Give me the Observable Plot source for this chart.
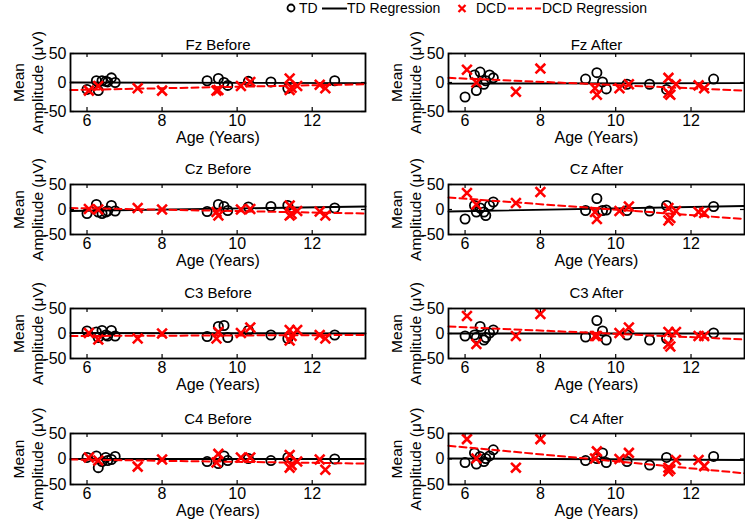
<!DOCTYPE html>
<html><head><meta charset="utf-8">
<script src="https://cdn.jsdelivr.net/npm/d3@7"></script>
<script src="https://cdn.jsdelivr.net/npm/@observablehq/plot@0.6"></script>
<style>
html,body{margin:0;padding:0;background:#fff;}
#fig{position:relative;width:745px;height:523px;overflow:hidden;font-family:"Liberation Sans",Arial,Helvetica,sans-serif;color:#000;background:#fff;}
.panel{position:absolute;}
.leg{position:absolute;top:0;height:17px;font-size:14px;line-height:17px;white-space:nowrap;}
.leg svg{display:block;}
</style></head><body><div id="fig"></div>
<script>
// ---------- data ----------
const xTicks = [6, 8, 10, 12];
const yTicks = [-50, 0, 50];
const xDomain = [5.56, 13.42];
const yDomain = [-50, 50];
const panelTitles = ["Fz Before", "Fz After", "Cz Before", "Cz After", "C3 Before", "C3 After", "C4 Before", "C4 After"];
const legendLabels = ["TD", "TD Regression", "DCD", "DCD Regression"];

const tdAge = [6.0, 6.25, 6.3, 6.4, 6.5, 6.55, 6.65, 6.75, 9.2, 9.5, 9.65, 9.75, 10.3, 10.9, 11.35, 12.6];
const dcdAge = [6.05, 6.3, 7.35, 8.0, 9.45, 9.5, 10.1, 10.35, 11.4, 11.4, 11.45, 11.6, 12.2, 12.35];

const tdFzBefore = [-12, 3, -14, 3, 2, 1, 8, 0, 3, 7, 0, -5, 2, 1, -10, 3];
const tdFzAfter  = [-25, 13, -14, 18, -3, 3, 13, 8, 6, 17, 1, -11, -3, -3, -12, 6];
const tdCzBefore = [-8, 10, -5, -8, -5, -3, 8, -3, -4, 10, 6, -2, 5, 6, 8, 3];
const tdCzAfter  = [-19, 8, -5, 3, -5, -12, 8, 15, -2, 22, -2, -1, -2, -3, 8, 6];
const tdC3Before = [5, 3, -8, 6, -3, -5, 6, -5, -6, 14, 16, -8, 6, -3, -10, -3];
const tdC3After  = [-5, -3, -8, 14, -13, -8, 1, 7, -7, 26, 5, -13, -3, -13, -10, 1];
const tdC4Before = [3, 6, -17, -5, 3, -3, -1, 5, -5, -9, 6, -3, 1, -3, 3, 0];
const tdC4After  = [-7, 12, -10, 5, -5, 1, 6, 18, -3, 1, 12, -7, -5, -12, 3, 5];

const dcdFzBefore = [-14, -6, -10, -14, -14, -13, -6, 1, 7, -13, -9, -6, -4, -10];
const dcdFzAfter  = [22, 0, -16, 24, -10, -21, -10, -3, 8, -18, -21, -3, -5, -10];
const dcdCzBefore = [1, 0, 3, 0, -5, -12, 0, 1, 8, -12, -9, -3, -4, -12];
const dcdCzAfter  = [33, 10, 13, 35, -5, -19, -3, 6, 3, -22, -17, -3, -5, -7];
const dcdC3Before = [1, -12, -10, 0, -10, 3, 1, 12, 7, -14, -5, 7, -3, -10];
const dcdC3After  = [35, -21, -5, 39, -5, -5, 1, 12, 3, -21, -26, 3, -5, -5];
const dcdC4Before = [3, -3, -15, -1, -7, 10, 3, 3, 8, -17, -12, -5, -1, -21];
const dcdC4After  = [39, 1, -17, 39, 1, 15, 0, 12, -17, -24, -20, -2, -2, -14];

// regression line end values at the x-axis limits
const regAge = [5.56, 13.42];
const tdRegFzBefore = [0, -1],  dcdRegFzBefore = [-13, -3];
const tdRegFzAfter  = [-2, -1], dcdRegFzAfter  = [8, -14];
const tdRegCzBefore = [-3, 6],  dcdRegCzBefore = [3, -8];
const tdRegCzAfter  = [-4, 7],  dcdRegCzAfter  = [24, -19];
const tdRegC3Before = [1, 0],   dcdRegC3Before = [-5, -3];
const tdRegC3After  = [0, 0],   dcdRegC3After  = [14, -12];
const tdRegC4Before = [0, 0],   dcdRegC4Before = [-1, -9];
const tdRegC4After  = [1, -2],  dcdRegC4After  = [26, -28];

// ---------- layout ----------
const FONT = '"Liberation Sans", Arial, Helvetica, sans-serif';
const RED = "#ff0000";
const rows = [
  {top: 53, h: 58, titleGap: 14},
  {top: 184, h: 50, titleGap: 21},
  {top: 308, h: 50, titleGap: 21},
  {top: 433, h: 51, titleGap: 20}
];
const panels = [
  {td: tdFzBefore, dcd: dcdFzBefore, tdReg: tdRegFzBefore, dcdReg: dcdRegFzBefore},
  {td: tdFzAfter,  dcd: dcdFzAfter,  tdReg: tdRegFzAfter,  dcdReg: dcdRegFzAfter},
  {td: tdCzBefore, dcd: dcdCzBefore, tdReg: tdRegCzBefore, dcdReg: dcdRegCzBefore},
  {td: tdCzAfter,  dcd: dcdCzAfter,  tdReg: tdRegCzAfter,  dcdReg: dcdRegCzAfter},
  {td: tdC3Before, dcd: dcdC3Before, tdReg: tdRegC3Before, dcdReg: dcdRegC3Before},
  {td: tdC3After,  dcd: dcdC3After,  tdReg: tdRegC3After,  dcdReg: dcdRegC3After},
  {td: tdC4Before, dcd: dcdC4Before, tdReg: tdRegC4Before, dcdReg: dcdRegC4Before},
  {td: tdC4After,  dcd: dcdC4After,  tdReg: tdRegC4After,  dcdReg: dcdRegC4After}
];

const fig = document.getElementById("fig");

panels.forEach((p, i) => {
  const col = i % 2, row = Math.floor(i / 2);
  const r = rows[row];
  const W = col === 0 ? 372 : 373;
  const mL = col === 0 ? 70 : 76;
  const mR = col === 0 ? 7 : 1;
  const mT = 48, mB = 39;
  const boxW = W - mL - mR;
  const td = tdAge.map((a, k) => ({age: a, amp: p.td[k]}));
  const dcd = dcdAge.map((a, k) => ({age: a, amp: p.dcd[k]}));
  const tdReg = regAge.map((a, k) => ({age: a, amp: p.tdReg[k]}));
  const dcdReg = regAge.map((a, k) => ({age: a, amp: p.dcdReg[k]}));
  const chart = Plot.plot({
    width: W, height: mT + r.h + mB,
    marginLeft: mL, marginRight: mR, marginTop: mT, marginBottom: mB,
    x: {domain: xDomain},
    y: {domain: yDomain},
    style: {background: "transparent", overflow: "visible", fontFamily: FONT, color: "#000"},
    marks: [
      Plot.axisX({ticks: xTicks, tickSize: 0, tickPadding: 3, fontSize: 16, label: null, tickFormat: d => String(d)}),
      Plot.axisY({ticks: yTicks, tickSize: 0, tickPadding: 4, fontSize: 16, label: null, tickFormat: d => String(d)}),
      Plot.tickX(xTicks, {x: d => d, insetTop: r.h - 4, stroke: "#000", strokeWidth: 1.2}),
      Plot.tickX(xTicks, {x: d => d, insetBottom: r.h - 4, stroke: "#000", strokeWidth: 1.2}),
      Plot.tickY(yTicks, {y: d => d, insetRight: boxW - 4, stroke: "#000", strokeWidth: 1.2}),
      Plot.tickY(yTicks, {y: d => d, insetLeft: boxW - 4, stroke: "#000", strokeWidth: 1.2}),
      Plot.dot(td, {x: "age", y: "amp", r: 4.6, stroke: "#000", strokeWidth: 1.8, fill: "none"}),
      Plot.line(tdReg, {x: "age", y: "amp", stroke: "#000", strokeWidth: 1.9}),
      Plot.dot(dcd, {x: "age", y: "amp", symbol: "times", r: 4.5, stroke: RED, strokeWidth: 2.6}),
      Plot.line(dcdReg, {x: "age", y: "amp", stroke: RED, strokeWidth: 2, strokeDasharray: "7,4"}),
      Plot.frame({stroke: "#000", strokeWidth: 1.8}),
      Plot.text([panelTitles[i]], {text: d => d, frameAnchor: "top", dy: -r.titleGap, fontSize: 15}),
      Plot.text(["Age (Years)"], {text: d => d, frameAnchor: "bottom", dy: 31, fontSize: 16}),
      Plot.text(["Mean\nAmplitude (μV)"], {text: d => d, frameAnchor: "left", textAnchor: "middle", rotate: -90, dx: -43, fontSize: 15.5, lineHeight: 1.22})
    ]
  });
  const holder = document.createElement("div");
  holder.className = "panel";
  holder.style.left = (col === 0 ? 0 : 372) + "px";
  holder.style.top = (r.top - mT) + "px";
  holder.appendChild(chart);
  fig.appendChild(holder);
});

// ---------- legend ----------
function legItem(left, html) {
  const d = document.createElement("div");
  d.className = "leg";
  d.style.left = left + "px";
  d.innerHTML = html;
  fig.appendChild(d);
}
legItem(285, '<svg width="12" height="17"><circle cx="6" cy="8" r="3.5" fill="none" stroke="#000" stroke-width="1.8"/></svg>');
legItem(299, legendLabels[0]);
legItem(322, '<svg width="25" height="17"><line x1="0" x2="25" y1="8.5" y2="8.5" stroke="#000" stroke-width="2"/></svg>');
legItem(347, legendLabels[1]);
legItem(456, '<svg width="12" height="17"><path d="M2.5,5L9.5,12M2.5,12L9.5,5" stroke="' + RED + '" stroke-width="2.3"/></svg>');
legItem(476, legendLabels[2]);
legItem(508, '<svg width="33" height="17"><line x1="0" x2="33" y1="8.5" y2="8.5" stroke="' + RED + '" stroke-width="2" stroke-dasharray="6,3"/></svg>');
legItem(542, legendLabels[3]);
</script></body></html>
